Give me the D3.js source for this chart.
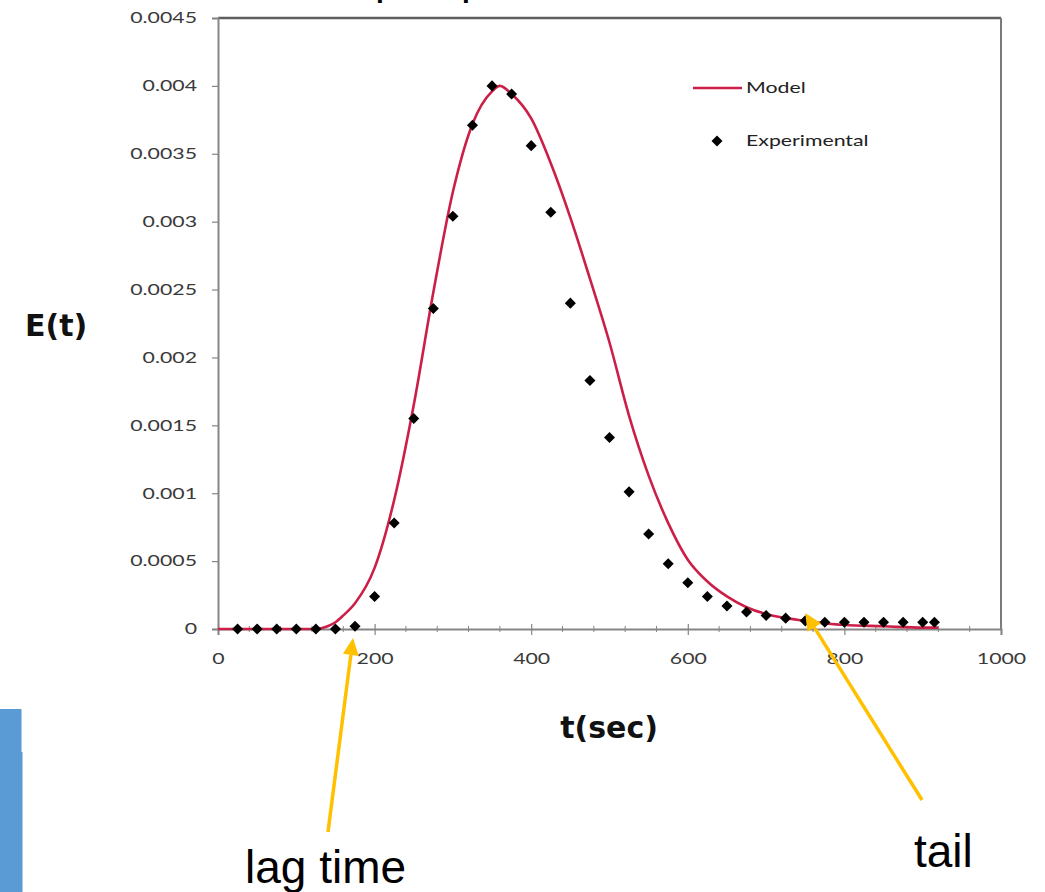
<!DOCTYPE html>
<html>
<head>
<meta charset="utf-8">
<script src="https://cdn.jsdelivr.net/npm/d3@7"></script>
<style>
  html, body { margin: 0; padding: 0; background: #ffffff; }
  svg { display: block; }
</style>
</head>
<body>
<svg id="chart" width="1045" height="892"></svg>
<script>
// ---------------- data ----------------
const expTime = [25, 50, 75, 100, 125, 150, 175, 200, 225, 250, 275, 300, 325, 350, 375, 400, 425, 450, 475, 500,
                 525, 550, 575, 600, 625, 650, 675, 700, 725, 750, 775, 800, 825, 850, 875, 900, 915];
const expE    = [0, 0, 0, 0, 0, 0, 0.00002, 0.00024, 0.00078, 0.00155, 0.00236, 0.00304, 0.00371, 0.0040, 0.00394, 0.00356, 0.00307, 0.0024, 0.00183, 0.00141,
                 0.00101, 0.0007, 0.00048, 0.00034, 0.00024, 0.00017, 0.000125, 0.0001, 0.00008, 0.00006, 0.00005, 0.00005, 0.00005, 0.00005, 0.00005, 0.00005, 0.00005];

const modelTime = [0, 100, 125, 140, 150, 160, 175, 200, 225, 250, 275, 300, 325, 350, 360, 375, 400, 425, 450, 475,
                   500, 525, 550, 575, 600, 625, 650, 675, 700, 725, 750, 775, 800, 850, 900, 920];
const modelE    = [0, 0, 0, 0.00002, 0.00005, 0.0001, 0.00019, 0.00045, 0.00095, 0.00165, 0.00248, 0.00322, 0.00372, 0.00396, 0.004, 0.00394, 0.00376, 0.00343, 0.00303, 0.00258,
                   0.00211, 0.00157, 0.00113, 0.00078, 0.00051, 0.00035, 0.00024, 0.00016, 0.00011, 0.00008, 0.00006, 0.00004, 0.00003, 0.00002, 0.00001, 0.00001];

const xTicks = [0, 200, 400, 600, 800, 1000];
const xTickLabels = ["0", "200", "400", "600", "800", "1000"];
const yTicks = [0, 0.0005, 0.001, 0.0015, 0.002, 0.0025, 0.003, 0.0035, 0.004, 0.0045];
const yTickLabels = ["0", "0.0005", "0.001", "0.0015", "0.002", "0.0025", "0.003", "0.0035", "0.004", "0.0045"];
const seriesNames = ["Model", "Experimental"];
const xTitle = "t(sec)";
const yTitle = "E(t)";
const annotations = [
  { label: "lag time", t: 175 },
  { label: "tail", t: 750 }
];

// ---------------- layout ----------------
const svg = d3.select("#chart");
const plot = { left: 218, right: 1001, top: 18, bottom: 629 };

const x = d3.scaleLinear().domain([0, 1000]).range([plot.left, plot.right]);
const y = d3.scaleLinear().domain([0, 0.0045]).range([plot.bottom, plot.top]);

const tickFont = "Lato, 'Open Sans', sans-serif";
const stretch = 1.42;          // the reference text is horizontally stretched
const tickColor = "#3a3a3a";
const axisColor = "#858585";
const modelColor = "#CC1F48";
const arrowColor = "#FFC000";

// cut-off title descenders at the very top edge
svg.append("text").attr("x", 376).attr("y", -3)
  .attr("font-family", "Liberation Sans, Arial, sans-serif").attr("font-weight", "bold")
  .attr("font-size", 28).attr("fill", "#000").text("p");
svg.append("text").attr("x", 462).attr("y", -3)
  .attr("font-family", "Liberation Sans, Arial, sans-serif").attr("font-weight", "bold")
  .attr("font-size", 28).attr("fill", "#000").text("p");

// blue side bar at bottom-left
svg.append("rect").attr("x", 0).attr("y", 709).attr("width", 21.5).attr("height", 45).attr("fill", "#5B9BD5");
svg.append("rect").attr("x", 0).attr("y", 752).attr("width", 22.5).attr("height", 140).attr("fill", "#5B9BD5");

// frame (top and right)
svg.append("line").attr("x1", plot.left).attr("x2", plot.right).attr("y1", plot.top).attr("y2", plot.top)
  .attr("stroke", "#5e5e5e").attr("stroke-width", 2.4);
svg.append("line").attr("x1", plot.right).attr("x2", plot.right).attr("y1", plot.top).attr("y2", plot.bottom)
  .attr("stroke", "#7a7a7a").attr("stroke-width", 2);

// y axis
const yAxis = d3.axisLeft(y).tickValues(yTicks).tickSize(6).tickPadding(0)
  .tickFormat((d, i) => yTickLabels[i]);
const gy = svg.append("g").attr("transform", `translate(${plot.left},0)`).call(yAxis);
gy.select(".domain").attr("stroke", axisColor).attr("stroke-width", 2);
gy.selectAll(".tick line").attr("stroke", axisColor).attr("stroke-width", 1.2);
gy.selectAll(".tick text").attr("font-family", tickFont).attr("font-size", 15)
  .attr("fill", tickColor)
  .attr("x", -21 / stretch)
  .attr("transform", `scale(${stretch},1)`);

// x axis minor ticks
const minor = d3.range(0, 1001, 40).filter(v => v % 200 !== 0);
svg.append("g").selectAll("line").data(minor).join("line")
  .attr("x1", d => x(d)).attr("x2", d => x(d))
  .attr("y1", plot.bottom - 3).attr("y2", plot.bottom + 3)
  .attr("stroke", axisColor).attr("stroke-width", 1);

// x axis
const xAxis = d3.axisBottom(x).tickValues(xTicks).tickSize(6).tickPadding(18)
  .tickFormat((d, i) => xTickLabels[i]);
const gx = svg.append("g").attr("transform", `translate(0,${plot.bottom})`).call(xAxis);
gx.select(".domain").attr("stroke", axisColor).attr("stroke-width", 2);
gx.selectAll(".tick line").attr("stroke", axisColor).attr("stroke-width", 1.2).attr("y1", -5);
gx.selectAll(".tick text").attr("font-family", tickFont).attr("font-size", 15)
  .attr("fill", tickColor).attr("transform", `scale(${stretch},1)`);

// axis titles
svg.append("text").attr("x", 25).attr("y", 336)
  .attr("font-family", "DejaVu Sans, sans-serif").attr("font-weight", "bold")
  .attr("font-size", 30).attr("fill", "#111").text(yTitle);
svg.append("text").attr("x", 609).attr("y", 738).attr("text-anchor", "middle")
  .attr("font-family", "DejaVu Sans, sans-serif").attr("font-weight", "bold")
  .attr("font-size", 30).attr("fill", "#111").text(xTitle);

// model curve
const modelData = modelTime.map((t, i) => ({ t, e: modelE[i] }));
const line = d3.line().x(d => x(d.t)).y(d => y(d.e)).curve(d3.curveMonotoneX);
svg.append("path").datum(modelData).attr("d", line)
  .attr("fill", "none").attr("stroke", modelColor).attr("stroke-width", 2.6);

// experimental points (diamonds)
const expData = expTime.map((t, i) => ({ t, e: expE[i] }));
const diamond = d3.symbol().type(d3.symbolDiamond2).size(78);
svg.append("g").selectAll("path").data(expData).join("path")
  .attr("d", diamond)
  .attr("transform", d => `translate(${x(d.t)},${y(d.e)})`)
  .attr("fill", "#000");

// legend
const lg = svg.append("g");
lg.append("line").attr("x1", 693).attr("x2", 742).attr("y1", 88).attr("y2", 88)
  .attr("stroke", modelColor).attr("stroke-width", 2.6);
lg.append("text").attr("x", 746 / stretch).attr("y", 93).text(seriesNames[0])
  .attr("transform", `scale(${stretch},1)`)
  .attr("font-family", tickFont).attr("font-size", 15).attr("fill", "#222");
lg.append("path").attr("d", diamond).attr("transform", "translate(717,141)").attr("fill", "#000");
lg.append("text").attr("x", 746 / stretch).attr("y", 146).text(seriesNames[1])
  .attr("transform", `scale(${stretch},1)`)
  .attr("font-family", tickFont).attr("font-size", 15).attr("fill", "#222");

// annotations: orange arrows + labels
function arrow(x1, y1, x2, y2) {
  const ang = Math.atan2(y2 - y1, x2 - x1);
  const len = 17, half = 8;
  const bx = x2 - len * Math.cos(ang), by = y2 - len * Math.sin(ang);
  svg.append("line").attr("x1", x1).attr("y1", y1).attr("x2", bx).attr("y2", by)
    .attr("stroke", arrowColor).attr("stroke-width", 3.5);
  const px = -Math.sin(ang), py = Math.cos(ang);
  svg.append("path")
    .attr("d", `M${x2},${y2} L${bx + px * half},${by + py * half} L${bx - px * half},${by - py * half} Z`)
    .attr("fill", arrowColor);
}
arrow(328, 832, x(annotations[0].t) - 2, y(0) + 9);
arrow(922, 800, x(annotations[1].t), y(0) - 16);

svg.append("text").attr("x", 245).attr("y", 883).text(annotations[0].label)
  .attr("font-family", "Liberation Sans, Arial, sans-serif").attr("font-size", 46).attr("fill", "#000");
svg.append("text").attr("x", 914).attr("y", 867).text(annotations[1].label)
  .attr("font-family", "Liberation Sans, Arial, sans-serif").attr("font-size", 46).attr("fill", "#000");
</script>
</body>
</html>
